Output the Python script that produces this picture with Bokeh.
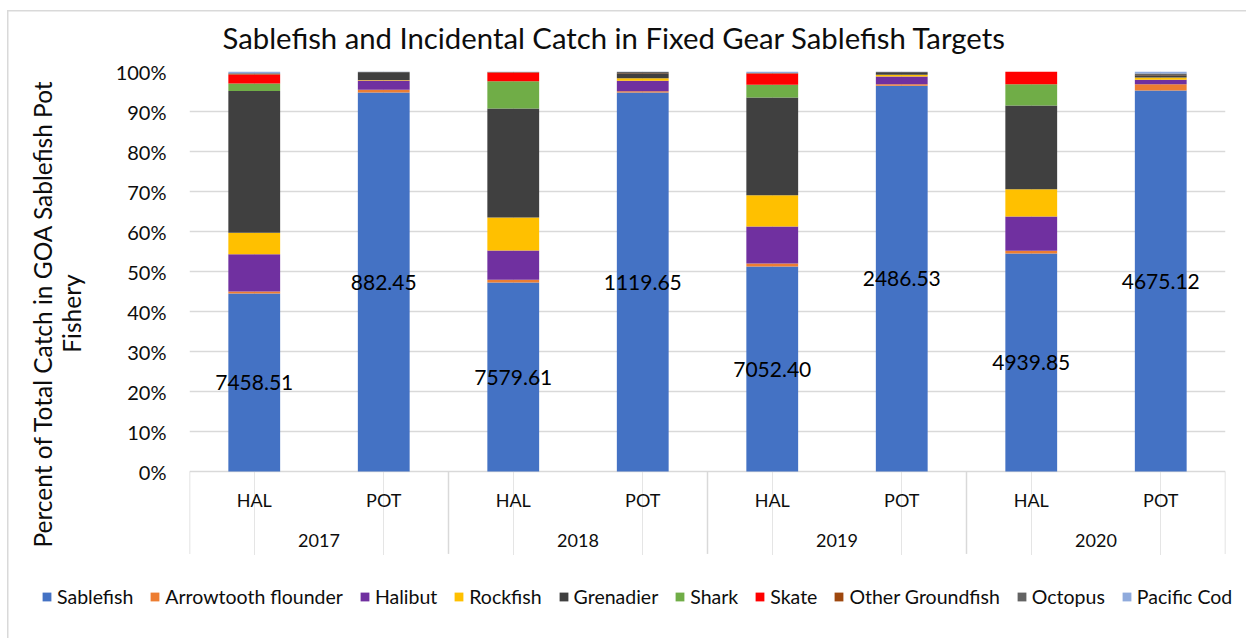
from bokeh.plotting import figure
from bokeh.models import (ColumnDataSource, FactorRange, Range1d, FixedTicker,
                          PrintfTickFormatter, Legend, LegendItem)
from bokeh.core.properties import value
from bokeh.embed import file_html
from bokeh.resources import INLINE

# ---------------- data ----------------
years = ["2017", "2018", "2019", "2020"]
gears = ["HAL", "POT"]
species = ["Sablefish", "Arrowtooth flounder", "Halibut", "Rockfish", "Grenadier",
           "Shark", "Skate", "Other Groundfish", "Octopus", "Pacific Cod"]
colors = ["#4472C4", "#ED7D31", "#7030A0", "#FFC000", "#404040",
          "#70AD47", "#FF0000", "#9E480E", "#636363", "#8FAADC"]

# percent of total catch, bars in order 2017 HAL, 2017 POT, 2018 HAL, ... 2020 POT
sablefish  = [44.5, 94.75, 47.25, 94.75, 51.25, 96.42, 54.5, 95.25]
arrowtooth = [0.5, 0.67, 0.67, 0.33, 0.75, 0.42, 0.67, 1.58]
halibut    = [9.3, 2.33, 7.33, 2.58, 9.25, 1.92, 8.58, 1.08]
rockfish   = [5.4, 0.15, 8.25, 0.67, 7.83, 0.42, 6.83, 0.58]
grenadier  = [35.4, 1.7, 27.25, 1.25, 24.42, 0.42, 20.92, 0.58]
shark      = [1.9, 0.0, 6.83, 0.0, 3.17, 0.0, 5.33, 0.0]
skate      = [2.25, 0.0, 2.17, 0.0, 2.83, 0.0, 3.17, 0.0]
other_gf   = [0.1, 0.05, 0.05, 0.05, 0.05, 0.05, 0.0, 0.05]
octopus    = [0.2, 0.3, 0.05, 0.3, 0.05, 0.3, 0.0, 0.4]
pacific_cod = [0.45, 0.05, 0.15, 0.07, 0.4, 0.05, 0.0, 0.48]

sablefish_labels = ["7458.51", "882.45", "7579.61", "1119.65",
                    "7052.40", "2486.53", "4939.85", "4675.12"]

title_text = "Sablefish and Incidental Catch in Fixed Gear Sablefish Targets"
y_label = "Percent of Total Catch in GOA Sablefish Pot\nFishery"

# ---------------- build ----------------
x = [(y, g) for y in years for g in gears]
series = [sablefish, arrowtooth, halibut, rockfish, grenadier,
          shark, skate, other_gf, octopus, pacific_cod]
data = {"x": x}
for name, vals in zip(species, series):
    data[name] = vals
data["label"] = sablefish_labels
data["label_y"] = [v / 2 for v in sablefish]
src = ColumnDataSource(data)

FONT = "Lato"
TXT = "#0d0d0d"
EDGE = "#d9d9d9"
W = 1246

p = figure(width=W, height=555,
           x_range=FactorRange(factors=x, range_padding=0, group_padding=0, factor_padding=0),
           y_range=Range1d(-21, 100),
           output_backend="svg", toolbar_location=None, x_axis_location=None,
           min_border_left=189, min_border_right=W - 1225, min_border_top=71,
           min_border_bottom=0)
# chart-area frame line (top and left edges), drawn behind a transparent canvas
p.border_fill_color = None
p.background_fill_color = None
p.styles = {
    "background-color": "white",
    "background-image": f"linear-gradient({EDGE}, {EDGE}), linear-gradient({EDGE}, {EDGE})",
    "background-repeat": "no-repeat",
    "background-position": "7px 10px, 7px 10px",
    "background-size": "100% 1.5px, 1.5px 100%",
}

p.title.text = title_text
p.title.text_font = FONT
p.title.text_font_size = "29.3px"
p.title.text_font_style = "normal"
p.title.text_color = TXT
p.title.align = "left"
p.title.vertical_align = "middle"
p.title.offset = 33
p.title.standoff = 32

p.outline_line_color = None
ticks = list(range(0, 101, 10))
p.yaxis.ticker = FixedTicker(ticks=ticks)
p.yaxis.formatter = PrintfTickFormatter(format="%d%%")
p.yaxis.axis_line_color = None
p.yaxis.major_tick_line_color = None
p.yaxis.minor_tick_line_color = None
p.yaxis.major_tick_out = 0
p.yaxis.major_tick_in = 0
p.yaxis.minor_tick_out = 0
p.yaxis.major_label_standoff = 23
p.yaxis.major_label_text_font = FONT
p.yaxis.major_label_text_font_size = "20px"
p.yaxis.major_label_text_color = TXT
p.yaxis.axis_label = y_label
p.yaxis.axis_label_text_font = FONT
p.yaxis.axis_label_text_font_size = "24.5px"
p.yaxis.axis_label_text_font_style = "normal"
p.yaxis.axis_label_text_line_height = 1.0
p.yaxis.axis_label_text_color = TXT
p.yaxis.axis_label_standoff = 27
p.ygrid.ticker = FixedTicker(ticks=ticks)
p.ygrid.grid_line_color = EDGE
p.ygrid.grid_line_width = 1.5

renderers = p.vbar_stack(species, x="x", width=0.4, color=colors, source=src,
                         line_color=None)

p.text(x="x", y="label_y", text="label", source=src,
       text_font=value(FONT), text_font_size="21px", text_color="black",
       text_align="center", text_baseline="middle")

# category axis (two levels) drawn inside the extended y range
bounds = [(y, "HAL", -0.5) for y in years] + [(years[-1], "POT", 0.5)]
p.segment(x0=bounds, y0=[0] * len(bounds), x1=bounds, y1=[-20.6] * len(bounds),
          line_color=EDGE, line_width=1.5)
p.text(x=x, y=[-7] * len(x), text=[g for (_, g) in x],
       text_font=value(FONT), text_font_size="18px", text_color=TXT,
       text_align="center", text_baseline="middle")
p.text(x=years, y=[-17.25] * len(years), text=years,
       text_font=value(FONT), text_font_size="18px", text_color=TXT,
       text_align="center", text_baseline="middle")

# legend strip (separate root placed under the chart)
lg = figure(width=W, height=83, x_range=Range1d(0, 1), y_range=Range1d(0, 1),
            output_backend="svg", toolbar_location=None,
            x_axis_location=None, y_axis_location=None,
            min_border_left=0, min_border_right=0, min_border_top=0, min_border_bottom=0)
lg.outline_line_color = None
lg.grid.visible = False
lg.border_fill_color = None
lg.background_fill_color = None
lg.styles = {
    "background-color": "white",
    "background-image": f"linear-gradient({EDGE}, {EDGE})",
    "background-repeat": "no-repeat",
    "background-position": "7px 0px",
    "background-size": "1.5px 100%",
}
lg_renderers = [lg.vbar(x=[0.5], top=[0.5], bottom=[0.5], width=0,
                        fill_color=c, line_color=None) for c in colors]
legend = Legend(items=[LegendItem(label=s, renderers=[r]) for s, r in zip(species, lg_renderers)],
                orientation="horizontal", location=(41, 30),
                label_text_font=FONT, label_text_font_size="19.5px", label_text_color=TXT,
                glyph_width=11, glyph_height=11, label_standoff=5, spacing=16,
                padding=0, margin=0, border_line_color=None, background_fill_alpha=0)
lg.add_layout(legend)

open("out.html", "w").write(file_html([p, lg], INLINE))
